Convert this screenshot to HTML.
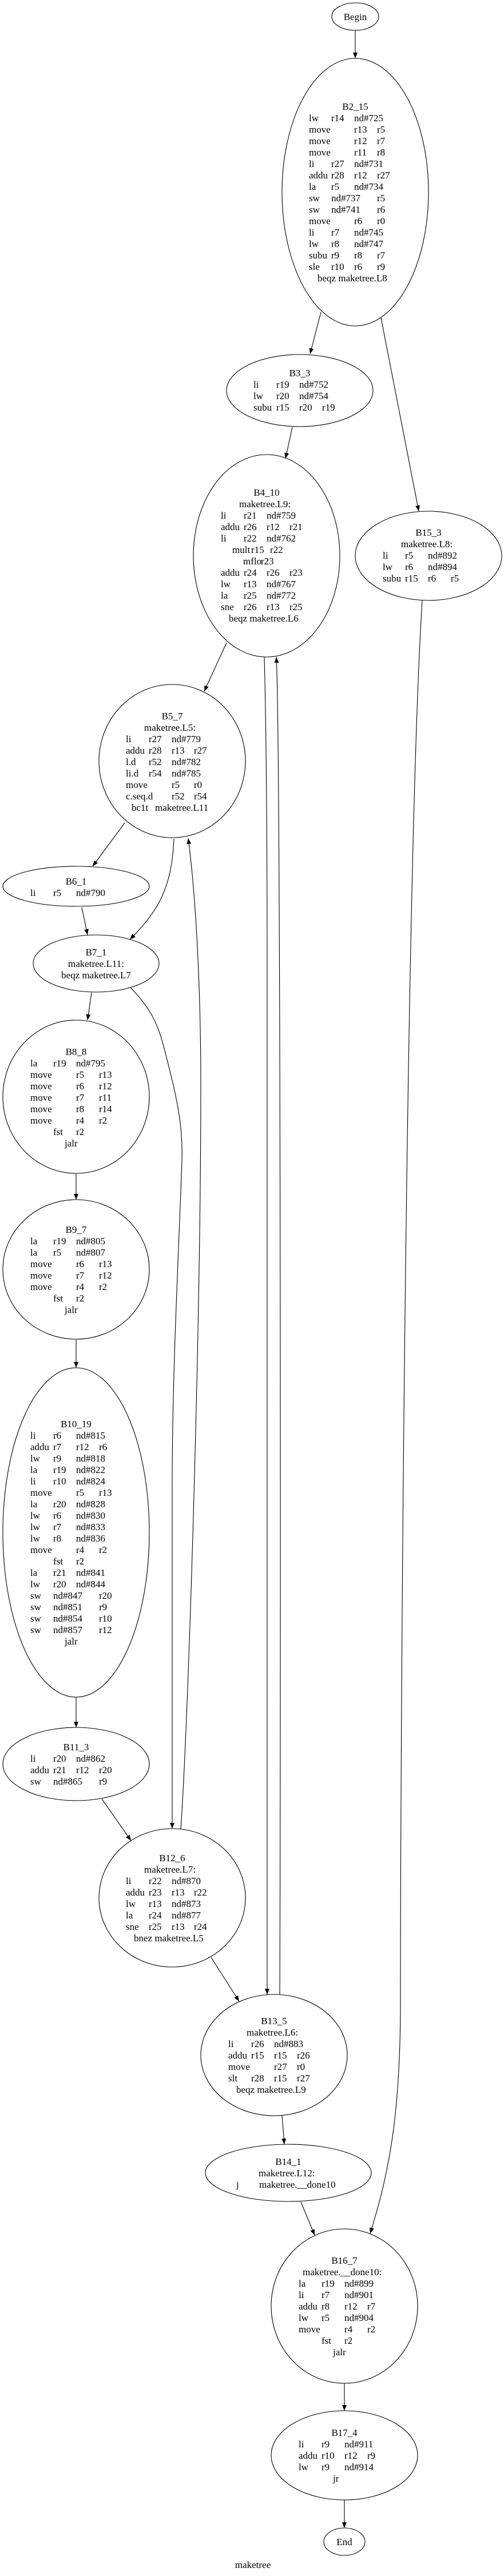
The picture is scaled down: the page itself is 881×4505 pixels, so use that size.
<!DOCTYPE html>
<html><head><meta charset="utf-8"><style>
html,body{margin:0;padding:0;background:#fff;}
svg{display:block;}
text{font-family:"Liberation Serif",serif;font-size:17px;fill:#000;}
.m{text-anchor:middle;}
</style></head><body>
<svg width="881" height="4505" viewBox="0 0 881 4505" xmlns="http://www.w3.org/2000/svg">
<defs><marker id="a" markerWidth="11" markerHeight="8" refX="10" refY="4" orient="auto" markerUnits="userSpaceOnUse"><path d="M0,0 L10,4 L0,8 z" fill="#000"/></marker></defs>
<g fill="none" stroke="#000" stroke-width="1.1">
<ellipse cx="621" cy="29" rx="41" ry="24"/>
<ellipse cx="621" cy="336" rx="128" ry="234"/>
<ellipse cx="524" cy="683" rx="128" ry="63"/>
<ellipse cx="466" cy="972" rx="128" ry="177"/>
<ellipse cx="749" cy="972" rx="128" ry="78"/>
<ellipse cx="301" cy="1331" rx="128" ry="134"/>
<ellipse cx="133" cy="1550" rx="128" ry="35"/>
<ellipse cx="168" cy="1685" rx="110" ry="50"/>
<ellipse cx="133" cy="1918" rx="128" ry="134"/>
<ellipse cx="133" cy="2220" rx="128" ry="122"/>
<ellipse cx="133" cy="2680" rx="128" ry="288"/>
<ellipse cx="133" cy="3085" rx="128" ry="64"/>
<ellipse cx="301" cy="3319" rx="128" ry="121"/>
<ellipse cx="479" cy="3594" rx="128" ry="106"/>
<ellipse cx="504" cy="3800" rx="145" ry="50"/>
<ellipse cx="602" cy="4033" rx="128" ry="135"/>
<ellipse cx="602" cy="4294" rx="128" ry="78"/>
<ellipse cx="602" cy="4445" rx="36" ry="24"/>
</g>
<g fill="none" stroke="#000" stroke-width="1.1" marker-end="url(#a)">
<path d="M621,53 L621,102"/>
<path d="M561,546 L542,619"/>
<path d="M666,556 L732,894"/>
<path d="M511,747 L499,802"/>
<path d="M396,1124 L357,1209"/>
<path d="M462,1149 C466,1300 467,1500 467,1700 L467,3488"/>
<path d="M489,3488 C491,3000 491,1300 483,1149"/>
<path d="M218,1439 L162,1515"/>
<path d="M304,1467 C300,1550 280,1590 227,1643"/>
<path d="M143,1587 L153,1635"/>
<path d="M160,1736 L153,1784"/>
<path d="M228,1727 C262,1762 276,1790 286,1830 C310,1920 320,1970 318,2030 C312,2200 301,2400 301,2600 L301,3198"/>
<path d="M316,3199 C330,3000 351,2300 351,1900 C351,1700 340,1550 329,1466"/>
<path d="M133,2053 L133,2098"/>
<path d="M133,2343 L133,2392"/>
<path d="M133,2968 L133,3021"/>
<path d="M178,3146 L229,3219"/>
<path d="M369,3423 L418,3500"/>
<path d="M493,3700 L497,3750"/>
<path d="M526,3851 L550,3909"/>
<path d="M738,1050 C710,1500 700,3000 700,3500 C700,3700 680,3800 647,3906"/>
<path d="M602,4168 L602,4216"/>
<path d="M602,4372 L602,4421"/>
</g>

<text class="m" x="621" y="35">Begin</text>

<!-- B2_15 -->
<text class="m" x="621" y="192">B2_15</text>
<text y="212"><tspan x="540">lw</tspan><tspan x="579">r14</tspan><tspan x="619">nd#725</tspan></text>
<text y="232"><tspan x="540">move</tspan><tspan x="619">r13</tspan><tspan x="659">r5</tspan></text>
<text y="252"><tspan x="540">move</tspan><tspan x="619">r12</tspan><tspan x="659">r7</tspan></text>
<text y="272"><tspan x="540">move</tspan><tspan x="619">r11</tspan><tspan x="659">r8</tspan></text>
<text y="292"><tspan x="540">li</tspan><tspan x="579">r27</tspan><tspan x="619">nd#731</tspan></text>
<text y="312"><tspan x="540">addu</tspan><tspan x="579">r28</tspan><tspan x="619">r12</tspan><tspan x="659">r27</tspan></text>
<text y="332"><tspan x="540">la</tspan><tspan x="579">r5</tspan><tspan x="619">nd#734</tspan></text>
<text y="352"><tspan x="540">sw</tspan><tspan x="579">nd#737</tspan><tspan x="659">r5</tspan></text>
<text y="372"><tspan x="540">sw</tspan><tspan x="579">nd#741</tspan><tspan x="659">r6</tspan></text>
<text y="392"><tspan x="540">move</tspan><tspan x="619">r6</tspan><tspan x="659">r0</tspan></text>
<text y="412"><tspan x="540">li</tspan><tspan x="579">r7</tspan><tspan x="619">nd#745</tspan></text>
<text y="432"><tspan x="540">lw</tspan><tspan x="579">r8</tspan><tspan x="619">nd#747</tspan></text>
<text y="452"><tspan x="540">subu</tspan><tspan x="579">r9</tspan><tspan x="619">r8</tspan><tspan x="659">r7</tspan></text>
<text y="472"><tspan x="540">sle</tspan><tspan x="579">r10</tspan><tspan x="619">r6</tspan><tspan x="659">r9</tspan></text>
<text x="555" y="492">beqz maketree.L8</text>

<!-- B3_3 -->
<text class="m" x="524" y="658">B3_3</text>
<text y="678"><tspan x="443">li</tspan><tspan x="483">r19</tspan><tspan x="523">nd#752</tspan></text>
<text y="698"><tspan x="443">lw</tspan><tspan x="483">r20</tspan><tspan x="523">nd#754</tspan></text>
<text y="718"><tspan x="443">subu</tspan><tspan x="483">r15</tspan><tspan x="523">r20</tspan><tspan x="563">r19</tspan></text>

<!-- B4_10 -->
<text class="m" x="466" y="867">B4_10</text>
<text x="418" y="887">maketree.L9:</text>
<text y="907"><tspan x="386">li</tspan><tspan x="426">r21</tspan><tspan x="466">nd#759</tspan></text>
<text y="927"><tspan x="386">addu</tspan><tspan x="426">r26</tspan><tspan x="466">r12</tspan><tspan x="506">r21</tspan></text>
<text y="947"><tspan x="386">li</tspan><tspan x="426">r22</tspan><tspan x="466">nd#762</tspan></text>
<text y="967"><tspan x="406">mult</tspan><tspan x="439">r15</tspan><tspan x="472">r22</tspan></text>
<text y="987"><tspan x="425">mflo</tspan><tspan x="456">r23</tspan></text>
<text y="1007"><tspan x="386">addu</tspan><tspan x="426">r24</tspan><tspan x="466">r26</tspan><tspan x="506">r23</tspan></text>
<text y="1027"><tspan x="386">lw</tspan><tspan x="426">r13</tspan><tspan x="466">nd#767</tspan></text>
<text y="1047"><tspan x="386">la</tspan><tspan x="426">r25</tspan><tspan x="466">nd#772</tspan></text>
<text y="1067"><tspan x="386">sne</tspan><tspan x="426">r26</tspan><tspan x="466">r13</tspan><tspan x="506">r25</tspan></text>
<text x="400" y="1087">beqz maketree.L6</text>

<!-- B15_3 -->
<text class="m" x="749" y="937">B15_3</text>
<text x="701" y="957">maketree.L8:</text>
<text y="977"><tspan x="669">li</tspan><tspan x="708">r5</tspan><tspan x="748">nd#892</tspan></text>
<text y="997"><tspan x="669">lw</tspan><tspan x="708">r6</tspan><tspan x="748">nd#894</tspan></text>
<text y="1017"><tspan x="669">subu</tspan><tspan x="708">r15</tspan><tspan x="748">r6</tspan><tspan x="788">r5</tspan></text>

<!-- B5_7 -->
<text class="m" x="301" y="1258">B5_7</text>
<text x="252" y="1278">maketree.L5:</text>
<text y="1298"><tspan x="220">li</tspan><tspan x="260">r27</tspan><tspan x="300">nd#779</tspan></text>
<text y="1318"><tspan x="220">addu</tspan><tspan x="260">r28</tspan><tspan x="300">r13</tspan><tspan x="339">r27</tspan></text>
<text y="1338"><tspan x="220">l.d</tspan><tspan x="260">r52</tspan><tspan x="300">nd#782</tspan></text>
<text y="1358"><tspan x="220">li.d</tspan><tspan x="260">r54</tspan><tspan x="300">nd#785</tspan></text>
<text y="1378"><tspan x="220">move</tspan><tspan x="300">r5</tspan><tspan x="339">r0</tspan></text>
<text y="1398"><tspan x="220">c.seq.d</tspan><tspan x="300">r52</tspan><tspan x="339">r54</tspan></text>
<text y="1418"><tspan x="230">bc1t</tspan><tspan x="271">maketree.L11</tspan></text>

<!-- B6_1 -->
<text class="m" x="133" y="1547">B6_1</text>
<text y="1567"><tspan x="53">li</tspan><tspan x="93">r5</tspan><tspan x="133">nd#790</tspan></text>

<!-- B7_1 -->
<text class="m" x="168" y="1671">B7_1</text>
<text class="m" x="168" y="1691">maketree.L11:</text>
<text class="m" x="168" y="1711">beqz maketree.L7</text>

<!-- B8_8 -->
<text class="m" x="133" y="1845">B8_8</text>
<text y="1865"><tspan x="53">la</tspan><tspan x="93">r19</tspan><tspan x="133">nd#795</tspan></text>
<text y="1885"><tspan x="53">move</tspan><tspan x="133">r5</tspan><tspan x="173">r13</tspan></text>
<text y="1905"><tspan x="53">move</tspan><tspan x="133">r6</tspan><tspan x="173">r12</tspan></text>
<text y="1925"><tspan x="53">move</tspan><tspan x="133">r7</tspan><tspan x="173">r11</tspan></text>
<text y="1945"><tspan x="53">move</tspan><tspan x="133">r8</tspan><tspan x="173">r14</tspan></text>
<text y="1965"><tspan x="53">move</tspan><tspan x="133">r4</tspan><tspan x="173">r2</tspan></text>
<text y="1985"><tspan x="93">fst</tspan><tspan x="133">r2</tspan></text>
<text x="113" y="2005">jalr</text>

<!-- B9_7 -->
<text class="m" x="133" y="2156">B9_7</text>
<text y="2176"><tspan x="53">la</tspan><tspan x="93">r19</tspan><tspan x="133">nd#805</tspan></text>
<text y="2196"><tspan x="53">la</tspan><tspan x="93">r5</tspan><tspan x="133">nd#807</tspan></text>
<text y="2216"><tspan x="53">move</tspan><tspan x="133">r6</tspan><tspan x="173">r13</tspan></text>
<text y="2236"><tspan x="53">move</tspan><tspan x="133">r7</tspan><tspan x="173">r12</tspan></text>
<text y="2256"><tspan x="53">move</tspan><tspan x="133">r4</tspan><tspan x="173">r2</tspan></text>
<text y="2276"><tspan x="93">fst</tspan><tspan x="133">r2</tspan></text>
<text x="113" y="2296">jalr</text>

<!-- B10_19 -->
<text class="m" x="133" y="2496">B10_19</text>
<text y="2516"><tspan x="53">li</tspan><tspan x="93">r6</tspan><tspan x="133">nd#815</tspan></text>
<text y="2536"><tspan x="53">addu</tspan><tspan x="93">r7</tspan><tspan x="133">r12</tspan><tspan x="173">r6</tspan></text>
<text y="2556"><tspan x="53">lw</tspan><tspan x="93">r9</tspan><tspan x="133">nd#818</tspan></text>
<text y="2576"><tspan x="53">la</tspan><tspan x="93">r19</tspan><tspan x="133">nd#822</tspan></text>
<text y="2596"><tspan x="53">li</tspan><tspan x="93">r10</tspan><tspan x="133">nd#824</tspan></text>
<text y="2616"><tspan x="53">move</tspan><tspan x="133">r5</tspan><tspan x="173">r13</tspan></text>
<text y="2636"><tspan x="53">la</tspan><tspan x="93">r20</tspan><tspan x="133">nd#828</tspan></text>
<text y="2656"><tspan x="53">lw</tspan><tspan x="93">r6</tspan><tspan x="133">nd#830</tspan></text>
<text y="2676"><tspan x="53">lw</tspan><tspan x="93">r7</tspan><tspan x="133">nd#833</tspan></text>
<text y="2696"><tspan x="53">lw</tspan><tspan x="93">r8</tspan><tspan x="133">nd#836</tspan></text>
<text y="2716"><tspan x="53">move</tspan><tspan x="133">r4</tspan><tspan x="173">r2</tspan></text>
<text y="2736"><tspan x="93">fst</tspan><tspan x="133">r2</tspan></text>
<text y="2756"><tspan x="53">la</tspan><tspan x="93">r21</tspan><tspan x="133">nd#841</tspan></text>
<text y="2776"><tspan x="53">lw</tspan><tspan x="93">r20</tspan><tspan x="133">nd#844</tspan></text>
<text y="2796"><tspan x="53">sw</tspan><tspan x="93">nd#847</tspan><tspan x="173">r20</tspan></text>
<text y="2816"><tspan x="53">sw</tspan><tspan x="93">nd#851</tspan><tspan x="173">r9</tspan></text>
<text y="2836"><tspan x="53">sw</tspan><tspan x="93">nd#854</tspan><tspan x="173">r10</tspan></text>
<text y="2856"><tspan x="53">sw</tspan><tspan x="93">nd#857</tspan><tspan x="173">r12</tspan></text>
<text x="113" y="2876">jalr</text>

<!-- B11_3 -->
<text class="m" x="133" y="3061">B11_3</text>
<text y="3081"><tspan x="53">li</tspan><tspan x="93">r20</tspan><tspan x="133">nd#862</tspan></text>
<text y="3101"><tspan x="53">addu</tspan><tspan x="93">r21</tspan><tspan x="133">r12</tspan><tspan x="173">r20</tspan></text>
<text y="3121"><tspan x="53">sw</tspan><tspan x="93">nd#865</tspan><tspan x="173">r9</tspan></text>

<!-- B12_6 -->
<text class="m" x="301" y="3255">B12_6</text>
<text x="252" y="3275">maketree.L7:</text>
<text y="3295"><tspan x="220">li</tspan><tspan x="260">r22</tspan><tspan x="300">nd#870</tspan></text>
<text y="3315"><tspan x="220">addu</tspan><tspan x="260">r23</tspan><tspan x="300">r13</tspan><tspan x="339">r22</tspan></text>
<text y="3335"><tspan x="220">lw</tspan><tspan x="260">r13</tspan><tspan x="300">nd#873</tspan></text>
<text y="3355"><tspan x="220">la</tspan><tspan x="260">r24</tspan><tspan x="300">nd#877</tspan></text>
<text y="3375"><tspan x="220">sne</tspan><tspan x="260">r25</tspan><tspan x="300">r13</tspan><tspan x="339">r24</tspan></text>
<text x="234" y="3395">bnez maketree.L5</text>

<!-- B13_5 -->
<text class="m" x="479" y="3540">B13_5</text>
<text x="431" y="3560">maketree.L6:</text>
<text y="3580"><tspan x="399">li</tspan><tspan x="439">r26</tspan><tspan x="479">nd#883</tspan></text>
<text y="3600"><tspan x="399">addu</tspan><tspan x="439">r15</tspan><tspan x="479">r15</tspan><tspan x="519">r26</tspan></text>
<text y="3620"><tspan x="399">move</tspan><tspan x="479">r27</tspan><tspan x="519">r0</tspan></text>
<text y="3640"><tspan x="399">slt</tspan><tspan x="439">r28</tspan><tspan x="479">r15</tspan><tspan x="519">r27</tspan></text>
<text x="413" y="3660">beqz maketree.L9</text>

<!-- B14_1 -->
<text class="m" x="504" y="3786">B14_1</text>
<text x="452" y="3806">maketree.L12:</text>
<text y="3826"><tspan x="413">j</tspan><tspan x="453">maketree.__done10</tspan></text>

<!-- B16_7 -->
<text class="m" x="602" y="3959">B16_7</text>
<text x="529" y="3979">maketree.__done10:</text>
<text y="3999"><tspan x="522">la</tspan><tspan x="562">r19</tspan><tspan x="602">nd#899</tspan></text>
<text y="4019"><tspan x="522">li</tspan><tspan x="562">r7</tspan><tspan x="602">nd#901</tspan></text>
<text y="4039"><tspan x="522">addu</tspan><tspan x="562">r8</tspan><tspan x="602">r12</tspan><tspan x="642">r7</tspan></text>
<text y="4059"><tspan x="522">lw</tspan><tspan x="562">r5</tspan><tspan x="602">nd#904</tspan></text>
<text y="4079"><tspan x="522">move</tspan><tspan x="602">r4</tspan><tspan x="642">r2</tspan></text>
<text y="4099"><tspan x="562">fst</tspan><tspan x="602">r2</tspan></text>
<text x="582" y="4119">jalr</text>

<!-- B17_4 -->
<text class="m" x="602" y="4260">B17_4</text>
<text y="4280"><tspan x="522">li</tspan><tspan x="562">r9</tspan><tspan x="602">nd#911</tspan></text>
<text y="4300"><tspan x="522">addu</tspan><tspan x="562">r10</tspan><tspan x="602">r12</tspan><tspan x="642">r9</tspan></text>
<text y="4320"><tspan x="522">lw</tspan><tspan x="562">r9</tspan><tspan x="602">nd#914</tspan></text>
<text x="582" y="4340">jr</text>

<text class="m" x="602" y="4451">End</text>
<text class="m" x="442" y="4491">maketree</text>
</svg>
</body></html>
